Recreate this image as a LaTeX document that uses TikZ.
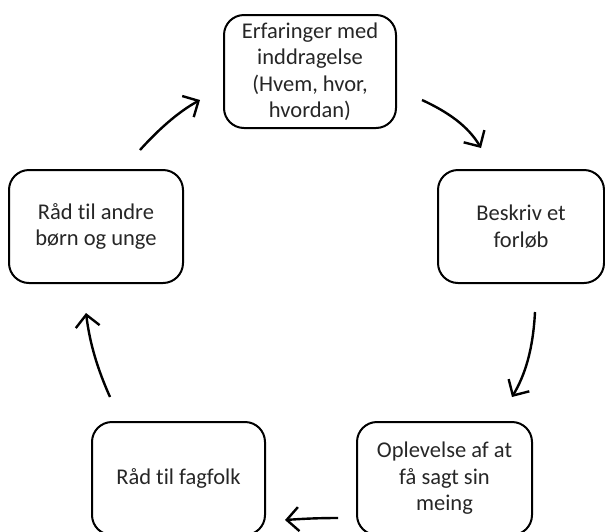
\documentclass[tikz,border=0pt]{standalone}
\usepackage{fontspec}
\setmainfont{Carlito}[Ligatures=NoCommon]
\usetikzlibrary{arrows.meta}

\tikzset{
  stage/.style={draw, line width=2pt, rounded corners=20pt, align=center,
    inner sep=0pt, minimum height=113pt, text=black!85,
    font=\fontsize{22.5}{26.5}\selectfont},
  flow/.style={line width=2.4pt, -{Straight Barb[length=12pt,width=24pt,line width=2.4pt]}}
}

\begin{document}
\begin{tikzpicture}[x=1pt, y=-1pt]
  \clip (0,0) rectangle (605,531);
  \useasboundingbox (0,0) rectangle (605,531);

  \node[stage, minimum width=172pt] (erfaring) at (310,71.5) {Erfaringer med\\inddragelse\\(Hvem, hvor,\\hvordan)};
  \node[stage, minimum width=166pt] (beskriv) at (521,226.5) {Beskriv et\\forløb};
  \node[stage, minimum width=175pt] (oplevelse) at (444.5,478.5) {Oplevelse af at\\få sagt sin\\meing};
  \node[stage, minimum width=173pt] (fagfolk) at (178.5,478.5) {Råd til fagfolk};
  \node[stage, minimum width=174pt] (andre) at (96,226.5) {Råd til andre\\børn og unge};

  \coordinate (a1) at (422,100);
  \coordinate (b1) at (481,148);
  \coordinate (a2) at (535,312);
  \coordinate (b2) at (512,397);
  \coordinate (a3) at (338,518);
  \coordinate (b3) at (285,520);
  \coordinate (a4) at (110,397);
  \coordinate (b4) at (86,313);
  \coordinate (a5) at (140,150);
  \coordinate (b5) at (200,100);

  \draw[flow] (a1) .. controls (448,112) and (468,126) .. (b1);
  \draw[flow] (a2) .. controls (533,350) and (525,375) .. (b2);
  \draw[flow] (a3) .. controls (315,518) and (300,519) .. (b3);
  \draw[flow] (a4) .. controls (98,370) and (90,345) .. (b4);
  \draw[flow] (a5) .. controls (158,130) and (178,112) .. (b5);
\end{tikzpicture}
\end{document}
